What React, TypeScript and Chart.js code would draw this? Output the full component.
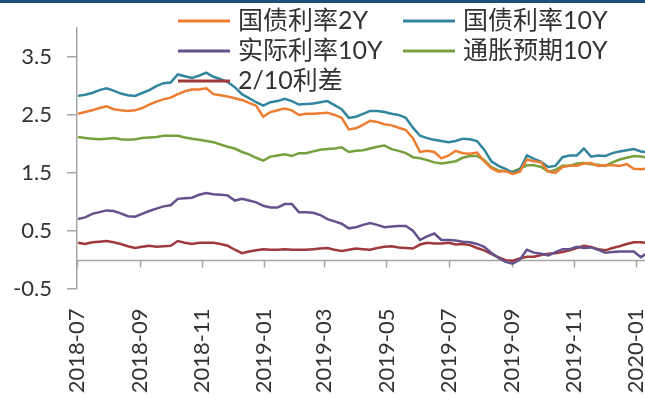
import { useEffect, useRef } from 'react';
import { Chart, registerables } from 'chart.js';

Chart.register(...registerables);

// Weekly observation dates
const dates = [
  '2018-07-02', '2018-07-09', '2018-07-16', '2018-07-23', '2018-07-30',
  '2018-08-06', '2018-08-13', '2018-08-20', '2018-08-27',
  '2018-09-03', '2018-09-10', '2018-09-17', '2018-09-24',
  '2018-10-01', '2018-10-08', '2018-10-15', '2018-10-22', '2018-10-29',
  '2018-11-05', '2018-11-12', '2018-11-19', '2018-11-26',
  '2018-12-03', '2018-12-10', '2018-12-17', '2018-12-24', '2018-12-31',
  '2019-01-07', '2019-01-14', '2019-01-21', '2019-01-28',
  '2019-02-04', '2019-02-11', '2019-02-18', '2019-02-25',
  '2019-03-04', '2019-03-11', '2019-03-18', '2019-03-25',
  '2019-04-01', '2019-04-08', '2019-04-15', '2019-04-22', '2019-04-29',
  '2019-05-06', '2019-05-13', '2019-05-20', '2019-05-27',
  '2019-06-03', '2019-06-10', '2019-06-17', '2019-06-24',
  '2019-07-01', '2019-07-08', '2019-07-15', '2019-07-22', '2019-07-29',
  '2019-08-05', '2019-08-12', '2019-08-19', '2019-08-26',
  '2019-09-02', '2019-09-09', '2019-09-16', '2019-09-23', '2019-09-30',
  '2019-10-07', '2019-10-14', '2019-10-21', '2019-10-28',
  '2019-11-04', '2019-11-11', '2019-11-18', '2019-11-25',
  '2019-12-02', '2019-12-09', '2019-12-16', '2019-12-23', '2019-12-30',
  '2020-01-06', '2020-01-10',
];

// 国债利率2Y
const yield2Y = [
  2.52, 2.55, 2.58, 2.62, 2.65, 2.60, 2.58, 2.57, 2.58, 2.62,
  2.68, 2.73, 2.77, 2.80, 2.86, 2.91, 2.94, 2.94, 2.96, 2.86,
  2.84, 2.82, 2.79, 2.76, 2.71, 2.66, 2.47, 2.55, 2.58, 2.61,
  2.58, 2.50, 2.52, 2.52, 2.53, 2.54, 2.50, 2.45, 2.25, 2.27,
  2.33, 2.40, 2.38, 2.34, 2.32, 2.28, 2.24, 2.10, 1.86, 1.88,
  1.86, 1.75, 1.80, 1.88, 1.84, 1.83, 1.85, 1.70, 1.58, 1.52,
  1.53, 1.48, 1.52, 1.73, 1.70, 1.68, 1.52, 1.50, 1.60, 1.62,
  1.62, 1.66, 1.67, 1.62, 1.63, 1.63, 1.62, 1.65, 1.57, 1.56, 1.57,
];

// 国债利率10Y
const yield10Y = [
  2.83, 2.85, 2.88, 2.93, 2.96, 2.92, 2.87, 2.84, 2.83, 2.88,
  2.93, 3.00, 3.05, 3.06, 3.20, 3.17, 3.14, 3.18, 3.23, 3.16,
  3.12, 3.07, 2.98, 2.86, 2.79, 2.72, 2.66, 2.72, 2.74, 2.78,
  2.74, 2.68, 2.69, 2.70, 2.72, 2.74, 2.67, 2.60, 2.45, 2.47,
  2.52, 2.57, 2.57, 2.55, 2.52, 2.50, 2.45, 2.28, 2.14, 2.10,
  2.07, 2.05, 2.03, 2.05, 2.09, 2.08, 2.05, 1.90, 1.70, 1.62,
  1.57, 1.50, 1.55, 1.80, 1.74, 1.69, 1.60, 1.62, 1.77, 1.80,
  1.80, 1.92, 1.78, 1.80, 1.79, 1.84, 1.87, 1.89, 1.91, 1.87, 1.86,
];

// 实际利率10Y
const real10Y = [
  0.70, 0.73, 0.79, 0.82, 0.85, 0.84, 0.80, 0.75, 0.74, 0.79,
  0.84, 0.88, 0.92, 0.94, 1.05, 1.06, 1.07, 1.12, 1.15, 1.13,
  1.12, 1.11, 1.02, 1.05, 1.02, 0.99, 0.93, 0.90, 0.90, 0.96,
  0.96, 0.82, 0.82, 0.81, 0.77, 0.70, 0.66, 0.62, 0.54, 0.56,
  0.60, 0.63, 0.60, 0.56, 0.57, 0.58, 0.58, 0.50, 0.34, 0.40,
  0.45, 0.34, 0.34, 0.33, 0.31, 0.30, 0.27, 0.22, 0.12, 0.03,
  -0.04, -0.07, 0.00, 0.17, 0.12, 0.10, 0.07, 0.13, 0.18, 0.18,
  0.22, 0.20, 0.21, 0.17, 0.12, 0.13, 0.14, 0.14, 0.14, 0.04, 0.09,
];

// 通胀预期10Y
const breakeven10Y = [
  2.12, 2.10, 2.09, 2.08, 2.09, 2.10, 2.08, 2.07, 2.08, 2.10,
  2.11, 2.12, 2.14, 2.14, 2.14, 2.11, 2.09, 2.07, 2.05, 2.03,
  1.99, 1.95, 1.92, 1.86, 1.82, 1.76, 1.71, 1.78, 1.80, 1.82,
  1.79, 1.84, 1.84, 1.87, 1.90, 1.91, 1.92, 1.94, 1.86, 1.88,
  1.89, 1.92, 1.95, 1.97, 1.91, 1.88, 1.84, 1.77, 1.75, 1.72,
  1.68, 1.66, 1.68, 1.70, 1.76, 1.79, 1.79, 1.72, 1.60, 1.54,
  1.53, 1.52, 1.57, 1.63, 1.63, 1.60, 1.52, 1.55, 1.62, 1.62,
  1.66, 1.67, 1.65, 1.64, 1.62, 1.68, 1.73, 1.76, 1.79, 1.78, 1.77,
];

// 2/10利差
const spread2s10s = [
  0.29, 0.27, 0.30, 0.31, 0.32, 0.30, 0.27, 0.23, 0.20, 0.22,
  0.24, 0.22, 0.23, 0.24, 0.32, 0.29, 0.27, 0.29, 0.29, 0.29,
  0.27, 0.24, 0.17, 0.11, 0.14, 0.16, 0.18, 0.17, 0.17, 0.18,
  0.17, 0.17, 0.17, 0.18, 0.19, 0.20, 0.17, 0.15, 0.17, 0.19,
  0.18, 0.17, 0.20, 0.22, 0.23, 0.21, 0.20, 0.19, 0.26, 0.29,
  0.28, 0.28, 0.29, 0.26, 0.27, 0.25, 0.20, 0.16, 0.10, 0.04,
  -0.01, -0.02, 0.02, 0.05, 0.05, 0.08, 0.10, 0.11, 0.13, 0.16,
  0.20, 0.24, 0.22, 0.18, 0.16, 0.20, 0.23, 0.27, 0.30, 0.30, 0.29,
];

const seriesNames = ['国债利率2Y', '国债利率10Y', '实际利率10Y', '通胀预期10Y', '2/10利差'];
const seriesColors = ['#ED7D31', '#31859C', '#65518C', '#77A03F', '#A0393C'];
const seriesValues = [yield2Y, yield10Y, real10Y, breakeven10Y, spread2s10s];

const monthTicks = [
  '2018-07', '2018-09', '2018-11', '2019-01', '2019-03',
  '2019-05', '2019-07', '2019-09', '2019-11', '2020-01',
];
const yTicks = [-0.5, 0.5, 1.5, 2.5, 3.5];

const ORIGIN = Date.parse('2018-07-01');
const dayOf = (iso: string) => (Date.parse(iso) - ORIGIN) / 86400000;

const FONT = 'Lato, "Noto Sans CJK SC", sans-serif';
const TEXT = '#333333';
const AXIS = '#a6a6a6';

// Horizontal axis line through zero, with its tick marks
const zeroAxis = {
  id: 'zeroAxis',
  beforeDatasetsDraw(chart: any) {
    const { ctx, chartArea, scales } = chart;
    const y0 = Math.round(scales.y.getPixelForValue(0)) + 0.5;
    ctx.save();
    ctx.strokeStyle = AXIS;
    ctx.lineWidth = 1.5;
    ctx.beginPath();
    ctx.moveTo(chartArea.left, y0);
    ctx.lineTo(chartArea.right, y0);
    scales.x.ticks.forEach((t: any) => {
      const px = Math.round(scales.x.getPixelForValue(t.value)) + 0.5;
      ctx.moveTo(px, y0);
      ctx.lineTo(px, y0 + 7);
    });
    ctx.stroke();
    ctx.restore();
  },
};

// Two-column legend laid over the top of the plot
const gridLegend = {
  id: 'gridLegend',
  afterDraw(chart: any) {
    const { ctx } = chart;
    const cols = [178, 403];
    const rows = [21, 51, 81];
    ctx.save();
    ctx.font = `25px ${FONT}`;
    ctx.textBaseline = 'middle';
    ctx.textAlign = 'left';
    chart.data.datasets.forEach((ds: any, i: number) => {
      const x = cols[i % 2];
      const y = rows[Math.floor(i / 2)];
      ctx.strokeStyle = ds.borderColor;
      ctx.lineWidth = 3;
      ctx.beginPath();
      ctx.moveTo(x, y);
      ctx.lineTo(x + 52, y);
      ctx.stroke();
      ctx.fillStyle = TEXT;
      ctx.fillText(ds.label, x + 60, y);
    });
    ctx.restore();
  },
};

export default function App() {
  const canvasRef = useRef<HTMLCanvasElement | null>(null);

  useEffect(() => {
    const canvas = canvasRef.current;
    if (!canvas) return;
    const xs = dates.map(dayOf);
    const chart = new Chart(canvas, {
      type: 'line',
      data: {
        datasets: seriesNames.map((name, i) => ({
          label: name,
          data: seriesValues[i].map((v, j) => ({ x: xs[j], y: v })),
          borderColor: seriesColors[i],
          backgroundColor: seriesColors[i],
          borderWidth: 2.5,
          pointRadius: 0,
          tension: 0,
          fill: false,
        })),
      },
      options: {
        animation: false,
        responsive: true,
        maintainAspectRatio: false,
        layout: { padding: { top: 23, left: 0, right: 0, bottom: 0 } },
        plugins: { legend: { display: false }, tooltip: { enabled: false } },
        scales: {
          x: {
            type: 'linear',
            min: 0,
            max: dayOf('2020-01-10'),
            grid: { display: false, drawTicks: false },
            border: { display: false },
            ticks: {
              autoSkip: false,
              minRotation: 90,
              maxRotation: 90,
              padding: 20,
              color: TEXT,
              font: { family: FONT, size: 22 },
              callback: (v: any) => {
                const m = monthTicks.find((t) => dayOf(t + '-01') === v);
                return m ?? '';
              },
            },
            afterBuildTicks: (scale: any) => {
              scale.ticks = monthTicks.map((t) => ({ value: dayOf(t + '-01') }));
            },
            afterFit: (scale: any) => {
              scale.height = 107.5;
              scale.paddingLeft = 0;
              scale.paddingRight = 0;
            },
          },
          y: {
            min: -0.5,
            max: 4,
            grid: { drawOnChartArea: false, drawTicks: true, tickLength: 10, color: AXIS, lineWidth: 1.5 },
            border: { display: true, color: AXIS, width: 1.5 },
            ticks: {
              padding: 15,
              color: TEXT,
              font: { family: FONT, size: 22 },
              callback: (v: any) => Number(v).toFixed(1),
            },
            afterBuildTicks: (scale: any) => {
              scale.ticks = yTicks.map((v) => ({ value: v }));
            },
            afterFit: (scale: any) => {
              scale.width = 77;
            },
          },
        },
      },
      plugins: [zeroAxis, gridLegend],
    });
    return () => chart.destroy();
  }, []);

  return (
    <div style={{ position: 'absolute', left: 0, top: 0, width: 645, height: 396, background: '#fff', overflow: 'hidden' }}>
      <div style={{ position: 'absolute', left: 0, top: 0, width: 645, height: 3, background: '#1F4E79', zIndex: 1 }} />
      <canvas ref={canvasRef} />
    </div>
  );
}
